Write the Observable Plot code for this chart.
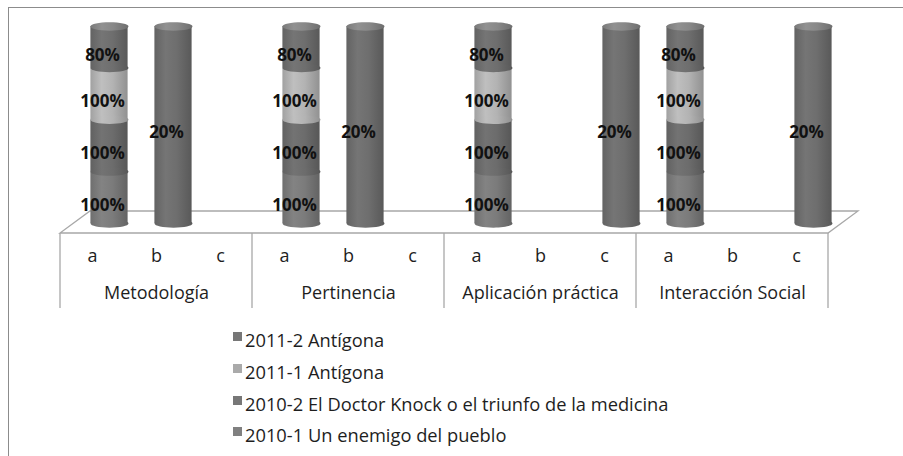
<!DOCTYPE html>
<html><head><meta charset="utf-8">
<script src="https://cdn.jsdelivr.net/npm/d3@7"></script>
<script src="https://cdn.jsdelivr.net/npm/@observablehq/plot@0.6"></script>
<style>
html,body{margin:0;padding:0;background:#fff;overflow:hidden;width:903px;height:456px}
#frame{position:absolute;left:8px;top:7px;width:1200px;height:1200px;border-left:1.5px solid #8c8c8c;border-top:1.5px solid #8c8c8c;box-sizing:border-box}
#chart{position:absolute;left:0;top:0}
#legend{position:absolute;left:233px;top:324px;font-family:"Open Sans",sans-serif;font-size:18.3px;color:#1e1e1e}
.row{height:31.7px;display:flex;align-items:center;white-space:nowrap}
.sw{width:9px;height:9px;margin-right:3px;position:relative;top:-3px;flex:none}
</style></head><body>
<div id="frame"></div>
<svg width="0" height="0" style="position:absolute"><defs id="defs"></defs></svg>
<div id="chart"></div>
<div id="legend"></div>
<script>
// ---- data ----
const groups = ["Metodología", "Pertinencia", "Aplicación práctica", "Interacción Social"];
const subs = ["a", "b", "c"];
const series = [
  "2010-1 Un enemigo del pueblo",
  "2010-2 El Doctor Knock o el triunfo de la medicina",
  "2011-1 Antígona",
  "2011-2 Antígona"
];
const values2010_1 = [100, 0, 0, 100, 0, 0, 100, 0, 0, 100, 0, 0];
const values2010_2 = [100, 0, 0, 100, 0, 0, 100, 0, 0, 100, 0, 0];
const values2011_1 = [100, 0, 0, 100, 0, 0, 100, 0, 0, 100, 0, 0];
const values2011_2 = [80, 20, 0, 80, 20, 0, 80, 0, 20, 80, 0, 20];
const seriesColors = ["#7b7b7b", "#6c6c6c", "#b3b3b3", "#6e6e6e"];
const legendColors = ["#808080", "#777777", "#aaaaaa", "#777777"];

const seriesValues = [values2010_1, values2010_2, values2011_1, values2011_2];
const cats = groups.flatMap(g => subs.map(s => g + "|" + s));
const rows = [];
series.forEach((s, si) => seriesValues[si].forEach((v, ci) => {
  if (v > 0) rows.push({cat: cats[ci], series: s, value: v});
}));

// ---- gradients ----
const defs = d3.select("#defs");
function grad(id, c) {
  const col = d3.color(c);
  const g = defs.append("linearGradient").attr("id", id)
    .attr("x1", 0).attr("x2", 1).attr("y1", 0).attr("y2", 0);
  [[0, col.darker(0.3)], [0.3, col.brighter(0.18)], [0.6, col], [1, col.darker(0.6)]]
    .forEach(([o, cc]) => g.append("stop").attr("offset", o).attr("stop-color", d3.color(cc).formatHex()));
}
seriesColors.forEach((c, i) => grad("g" + i, c));
grad("cap", "#888888");

// ---- custom ellipse symbol ----
const DX = 17, RX = 19, RY = 4.2;
const ellipse = {
  draw(ctx) {
    const k = 0.5523;
    ctx.moveTo(RX, 0);
    ctx.bezierCurveTo(RX, RY * k, RX * k, RY, 0, RY);
    ctx.bezierCurveTo(-RX * k, RY, -RX, RY * k, -RX, 0);
    ctx.bezierCurveTo(-RX, -RY * k, -RX * k, -RY, 0, -RY);
    ctx.bezierCurveTo(RX * k, -RY, RX, -RY * k, RX, 0);
    ctx.closePath();
  }
};

function floorAndGrid(index, scales, values, dims) {
  const x = scales.x;
  const bw = x.bandwidth ? x.bandwidth() : (dims.width - dims.marginLeft - dims.marginRight) / cats.length;
  const left = x(cats[0]), right = x(cats[cats.length - 1]) + bw;
  const base = dims.height - dims.marginBottom;
  const front = base + 10, back = front - 22, depth = 30, tableBottom = front + 75;
  const g = d3.create("svg:g").attr("fill", "none").attr("stroke", "#a8a8a8").attr("stroke-width", 1.3);
  g.append("path").attr("d", `M${left},${front}L${right},${front}L${right + depth},${back}L${left + depth},${back}Z`);
  const xs = groups.map((gr, i) => x(cats[i * subs.length])).concat([right]);
  xs.forEach(xv => g.append("line").attr("x1", xv).attr("x2", xv).attr("y1", front).attr("y2", tableBottom));
  return g.node();
}

const font = '"Open Sans", sans-serif';
const plot = Plot.plot({
  width: 903, height: 320,
  marginLeft: 55, marginRight: 70, marginTop: 26, marginBottom: 97,
  x: {type: "band", domain: cats, padding: 0, axis: null},
  y: {domain: [0, 1], axis: null},
  color: {domain: series, range: series.map((s, i) => `url(#g${i})`)},
  style: {background: "transparent", overflow: "visible", fontFamily: font},
  marks: [
    floorAndGrid,
    Plot.text(cats, {x: d => d, text: d => d.split("|")[1], frameAnchor: "bottom", dy: 38, fontSize: 18, fill: "#1e1e1e"}),
    Plot.text(groups, {x: (d, i) => cats[i * subs.length + 1], text: d => d, frameAnchor: "bottom", dy: 75, fontSize: 18, fill: "#1e1e1e"}),
    Plot.barY(rows, {x: "cat", y: "value", fill: "series", offset: "normalize", insetLeft: 13.4, insetRight: 13.4, dx: DX}),
    Plot.dot(rows, Plot.stackY1({x: "cat", y: "value", fill: "series", offset: "normalize", symbol: ellipse, dx: DX})),
    Plot.dot(rows, Plot.filter(d => d.series === series[3],
      Plot.stackY2({x: "cat", y: "value", z: "series", offset: "normalize", fill: "url(#cap)", symbol: ellipse, dx: DX}))),
    Plot.text(rows, Plot.stackY({x: "cat", y: "value", z: "series", offset: "normalize",
      text: d => d.value + "%", dx: 10, dy: 8, fontWeight: "bold", fontSize: 17, fill: "#111"}))
  ]
});
document.getElementById("chart").appendChild(plot);

// ---- legend ----
const legend = d3.select("#legend");
series.map((s, i) => [s, legendColors[i]]).reverse().forEach(([s, c]) => {
  const r = legend.append("div").attr("class", "row");
  r.append("div").attr("class", "sw").style("background", c);
  r.append("span").text(s);
});
</script>
</body></html>
